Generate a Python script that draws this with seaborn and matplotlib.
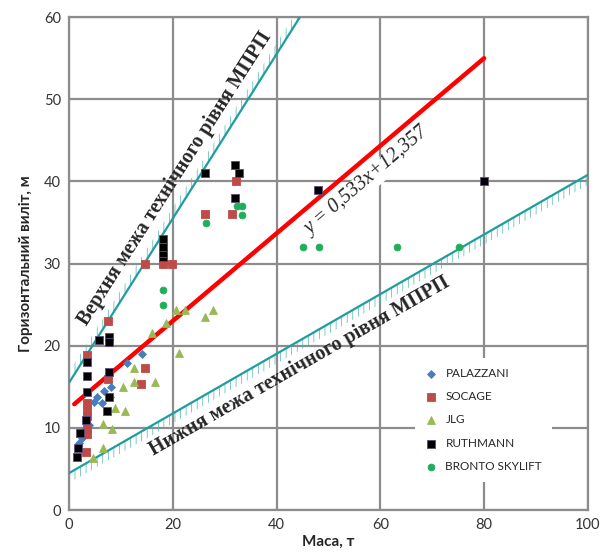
import matplotlib
matplotlib.use("Agg")
from matplotlib import pyplot as plt
import seaborn as sns
import pandas as pd
import numpy as np

# --- data ---
palazzani_x = [1.9, 2.5, 2.9, 3.9, 4.8, 5.4, 6.4, 6.7, 8.1, 7.9, 11.2, 14.1]
palazzani_y = [8.2, 8.8, 9.8, 10.4, 13.2, 13.7, 13.0, 14.5, 15.0, 13.7, 17.9, 19.0]

socage_x = [3.3, 3.5, 3.5, 3.5, 3.5, 3.5, 3.5, 7.5, 7.5, 13.8, 14.7, 14.6, 18.1, 19.8, 26.2, 31.4, 32.2]
socage_y = [7.1, 9.2, 10.0, 11.4, 12.2, 13.0, 18.9, 16.0, 23.0, 15.4, 17.3, 30.0, 30.0, 30.0, 36.0, 36.0, 40.0]

jlg_x = [4.6, 6.6, 6.6, 8.3, 8.9, 10.8, 10.4, 12.5, 12.5, 16.6, 16.0, 18.7, 20.6, 22.4, 21.1, 26.2, 27.7]
jlg_y = [6.3, 7.6, 10.5, 9.9, 12.4, 12.0, 15.0, 15.6, 17.3, 15.6, 21.6, 22.8, 24.4, 24.3, 19.1, 23.5, 24.4]

ruthmann_x = [1.5, 1.7, 2.1, 3.3, 3.5, 3.5, 3.5, 7.3, 7.7, 7.7, 5.8, 7.7, 7.7,
              18.1, 18.1, 18.1, 18.1, 26.2, 31.9, 32.8, 31.9, 48.0, 80.0]
ruthmann_y = [6.5, 7.6, 9.4, 11.0, 14.4, 16.3, 18.0, 12.0, 13.8, 16.8, 20.7, 21.1, 20.4,
              30.8, 31.3, 32.0, 33.0, 41.0, 42.0, 41.0, 38.0, 39.0, 40.0]

bronto_x = [18.1, 18.1, 26.3, 32.4, 33.3, 33.3, 45.1, 48.2, 63.2, 75.1]
bronto_y = [24.9, 26.8, 35.0, 37.0, 37.0, 35.9, 32.0, 32.0, 32.0, 32.0]

brands = ["PALAZZANI", "SOCAGE", "JLG", "RUTHMANN", "BRONTO SKYLIFT"]
brand_colors = ["#4A7EBB", "#BE4B48", "#98B954", "#000000", "#1FAF5A"]
brand_markers = ["D", "s", "^", "s", "o"]
brand_sizes = [16, 28, 32, 28, 24]

# regression line and technical-level bounds
trend_k, trend_b = 0.533, 12.357
trend_x = [1.0, 80.0]
upper_k, upper_b = 1.0, 15.5
lower_k, lower_b = 0.363, 4.5

df = pd.DataFrame({
    "mass": palazzani_x + socage_x + jlg_x + ruthmann_x + bronto_x,
    "reach": palazzani_y + socage_y + jlg_y + ruthmann_y + bronto_y,
    "brand": (["PALAZZANI"] * len(palazzani_x) + ["SOCAGE"] * len(socage_x)
              + ["JLG"] * len(jlg_x) + ["RUTHMANN"] * len(ruthmann_x)
              + ["BRONTO SKYLIFT"] * len(bronto_x)),
})

sns.set_style("white")
plt.rcParams['font.family'] = ['Lato', 'DejaVu Sans']
plt.rcParams['hatch.linewidth'] = 0.5

fig = plt.figure(figsize=(6.06, 5.52), dpi=100)
ax = fig.add_axes([0.114, 0.076, 0.856, 0.893])

grid_c = "#8c8c8c"
teal = "#1E9E9E"
hatch_c = "#4FB3B3"

# upper bound with hatching on the outer side
ux = np.array([0, 50])
ax.fill_between(ux, upper_k * ux + upper_b, upper_k * ux + upper_b + 1.3,
                facecolor="none", edgecolor=hatch_c, hatch="|||", linewidth=0, zorder=2)
ax.plot(ux, upper_k * ux + upper_b, color=teal, lw=1.6, zorder=3)

# lower bound
lx = np.array([0, 100])
ax.fill_between(lx, lower_k * lx + lower_b - 1.2, lower_k * lx + lower_b,
                facecolor="none", edgecolor=hatch_c, hatch="|||", linewidth=0, zorder=2)
ax.plot(lx, lower_k * lx + lower_b, color=teal, lw=1.6, zorder=3)

# trend line
tx = np.array(trend_x)
ax.plot(tx, trend_k * tx + trend_b, color="#FF0000", lw=3.2, zorder=4)

for b, c, m, s in zip(brands, brand_colors, brand_markers, brand_sizes):
    sub = df[df["brand"] == b]
    sns.scatterplot(data=sub, x="mass", y="reach", color=c, marker=m, s=s,
                    edgecolor="#5E4A80" if b == "RUTHMANN" else c, linewidth=0.6,
                    label=b, ax=ax, zorder=5)

ax.set_xlim(0, 100)
ax.set_ylim(0, 60)
ax.set_xticks(range(0, 101, 20))
ax.set_yticks(range(0, 61, 10))
ax.grid(True, color=grid_c, lw=1.6, zorder=0)
ax.set_axisbelow(True)
for sp in ax.spines.values():
    sp.set_color(grid_c)
    sp.set_linewidth(1.6)
ax.tick_params(axis="both", colors=grid_c, length=4, width=1.6, labelsize=10.5,
               labelcolor="#333333", pad=2)

ax.set_xlabel("Маса, т", fontsize=11, fontweight="bold", labelpad=2)
ax.set_ylabel("Горизонтальний виліт, м", fontsize=11, fontweight="bold", labelpad=8)

serif = ["Liberation Serif", "DejaVu Serif"]
ax.text(20.4, 40.3, "Верхня межа технічного рівня МПРП", rotation=57.5,
        ha="center", va="center", fontsize=14.5, fontweight="bold", family=serif,
        rotation_mode="anchor", zorder=6)
ax.text(44.4, 17.5, "Нижня межа технічного рівня МПРП", rotation=29.8,
        ha="center", va="center", fontsize=14.5, fontweight="bold", family=serif,
        rotation_mode="anchor", zorder=6)
ax.text(57.5, 40.0, "y = 0,533x+12,357", rotation=40.5, ha="center", va="center",
        fontsize=14.5, style="italic", family=serif, rotation_mode="anchor", zorder=6,
        bbox=dict(facecolor="white", edgecolor="none", pad=1))

leg = ax.legend(loc="upper left", bbox_to_anchor=(0.655, 0.32), frameon=True,
                fontsize=8.5, labelspacing=1.05, handletextpad=0.6, borderpad=0.8,
                markerscale=1.0, handlelength=1.2)
leg.get_frame().set_facecolor("white")
leg.get_frame().set_edgecolor("none")
leg.get_frame().set_alpha(1)
leg.set_zorder(7)

plt.savefig("out.png", dpi=100)
